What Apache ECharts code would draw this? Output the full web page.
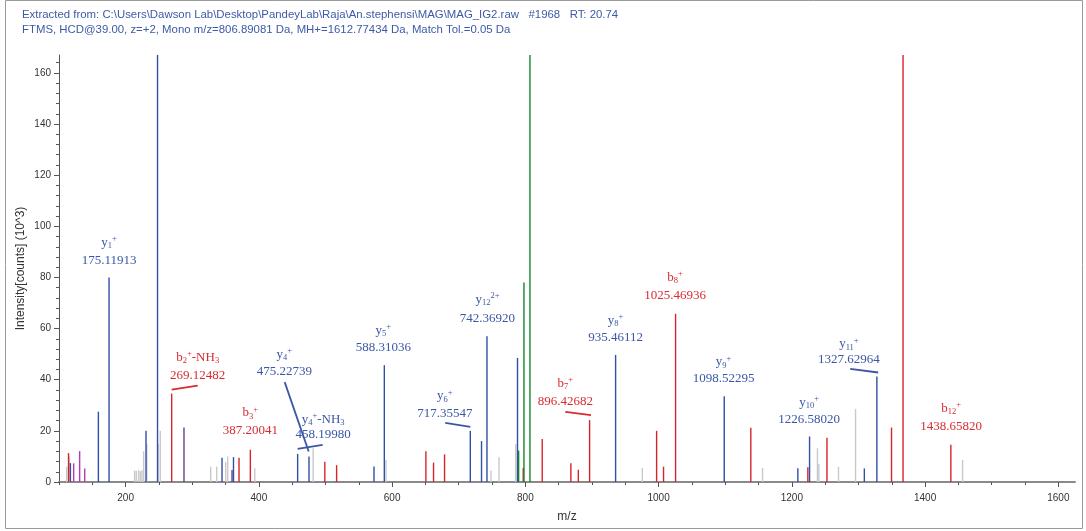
<!DOCTYPE html>
<html>
<head>
<meta charset="utf-8">
<script src="https://cdn.jsdelivr.net/npm/echarts@6/dist/echarts.min.js"></script>
<style>
  html, body { margin: 0; padding: 0; background: #ffffff; }
  #chart { width: 1086px; height: 531px; }
</style>
</head>
<body>
<div id="chart"></div>
<script>
// ---- Header text ----
const headerLine1 = 'Extracted from: C:\\Users\\Dawson Lab\\Desktop\\PandeyLab\\Raja\\An.stephensi\\MAG\\MAG_IG2.raw   #1968   RT: 20.74';
const headerLine2 = 'FTMS, HCD@39.00, z=+2, Mono m/z=806.89081 Da, MH+=1612.77434 Da, Match Tol.=0.05 Da';
const xAxisTitle = 'm/z';
const yAxisTitle = 'Intensity[counts] (10^3)';

// ---- Axis ticks ----
const xTickValues = [200, 400, 600, 800, 1000, 1200, 1400, 1600];
const xMinorTicks = [100, 150, 200, 250, 300, 350, 400, 450, 500, 550, 600, 650, 700, 750, 800, 850, 900, 950,
                     1000, 1050, 1100, 1150, 1200, 1250, 1300, 1350, 1400, 1450, 1500, 1550, 1600];
const yTickValues = [0, 20, 40, 60, 80, 100, 120, 140, 160];
const yMinorTicks = [0, 4, 8, 12, 16, 20, 24, 28, 32, 36, 40, 44, 48, 52, 56, 60, 64, 68, 72, 76, 80, 84, 88, 92, 96,
                     100, 104, 108, 112, 116, 120, 124, 128, 132, 136, 140, 144, 148, 152, 156, 160, 164];

// ---- Peaks: m/z and intensity (10^3 counts) by ion type ----
const greyMz  = [111.5, 115.5, 213.5, 216.0, 219.5, 222.0, 224.5, 227.0, 231.8, 248.8, 252.0, 327.7, 336.7, 350.2,
                 353.2, 393.8, 481.5, 590.8, 748.4, 760.5, 785.5, 975.6, 1156.0, 1238.4, 1240.5, 1270.0, 1295.6, 1456.3];
const greyInt = [6, 10, 4.5, 4.3, 4.6, 4.2, 4.5, 12, 15, 15, 20, 6, 6, 7.8,
                 10, 5.4, 13.2, 8.6, 4.5, 9.7, 14.9, 5.5, 5.5, 13.2, 7, 6, 28.6, 8.6];

const magentaMz  = [122.0, 131.0, 138.6];
const magentaInt = [7.3, 12.1, 5.3];

const purpleMz  = [287.6, 359.7];
const purpleInt = [21.3, 4.7];

const blueMz  = [117.1, 159.1, 175.11913, 230.6, 247.9, 344.7, 361.9, 458.19980, 475.22739, 572.8, 588.31036,
                 717.35547, 734.2, 742.36920, 788.2, 935.46112, 1098.52295, 1209.0, 1226.58020, 1308.8, 1327.62964];
const blueInt = [7.4, 27.5, 80, 20, 215, 9.5, 9.7, 11, 10, 6.1, 45.7,
                 20, 16, 57, 48.5, 49.7, 33.5, 5.4, 17.8, 5.3, 41.3];

const redMz  = [114.3, 269.12482, 370.2, 387.20041, 499.0, 516.7, 650.7, 662.2, 678.7, 796.8, 825.3, 868.3, 879.5,
                896.42682, 997.0, 1007.4, 1025.46936, 1138.4, 1224.0, 1252.7, 1349.6, 1366.9, 1438.65820];
const redInt = [11.3, 34.6, 9.5, 12.6, 7.9, 6.6, 12, 7.6, 10.8, 5.5, 16.8, 7.3, 4.8,
                24.2, 20, 6, 65.8, 21.2, 5.8, 17.3, 21.3, 240, 14.6];

const greenMz  = [789.9, 797.9, 806.9];
const greenInt = [12.3, 78, 290];

// ---- Fragment annotations ----
const annMz   = [175.11913, 269.12482, 387.20041, 475.22739, 458.19980, 588.31036, 717.35547, 742.36920,
                 896.42682, 935.46112, 1025.46936, 1098.52295, 1226.58020, 1327.62964, 1438.65820];
const annKind = ['y', 'b', 'b', 'y', 'y', 'y', 'y', 'y', 'b', 'y', 'b', 'y', 'y', 'y', 'b'];
const annName = [
  '{i|y}{sb|1}{sp|+}',
  '{i|b}{sb|2}{sp|+}{i|-NH}{sb|3}',
  '{i|b}{sb|3}{sp|+}',
  '{i|y}{sb|4}{sp|+}',
  '{i|y}{sb|4}{sp|+}{i|-NH}{sb|3}',
  '{i|y}{sb|5}{sp|+}',
  '{i|y}{sb|6}{sp|+}',
  '{i|y}{sb|12}{sp|2+}',
  '{i|b}{sb|7}{sp|+}',
  '{i|y}{sb|8}{sp|+}',
  '{i|b}{sb|8}{sp|+}',
  '{i|y}{sb|9}{sp|+}',
  '{i|y}{sb|10}{sp|+}',
  '{i|y}{sb|11}{sp|+}',
  '{i|b}{sb|12}{sp|+}'
];

// Label placement in pixels relative to the peak top:
// [dx, name line dy, value line dy, leader line [x1, y1, x2, y2] or null]
const annLayout = [
  [0, -35, -17, null],
  [26, -36, -18, [0, -4, 26, -8]],
  [0, -37, -19, null],
  [-24.6, -101.7, -85.3, [-24.3, -74.3, -0.3, -5]],
  [25.5, -34.5, -18.8, [0, -5, 25, -9]],
  [-1, -35, -18, null],
  [-25.5, -35, -17.4, [-25, -8, 0, -4]],
  [0.5, -36.6, -18, null],
  [-24.3, -36.7, -18.3, [-24.3, -8.3, 1.4, -5]],
  [0, -34.6, -17.3, null],
  [-0.5, -36, -18.2, null],
  [-0.7, -34.5, -17.9, null],
  [-0.5, -34, -16.5, null],
  [-28, -32.6, -16.6, [-26.7, -7.6, 1.3, -3.9]],
  [0.3, -36, -17.6, null]
];

// ---- Colours ----
const COL = {
  grey: '#c9c9c9', magenta: '#b23cb0', purple: '#6b3d8a',
  blue: '#3050a8', red: '#d9232b', green: '#12862a',
  blueText: '#3a56a6', redText: '#d82a30',
  axis: '#555555', axisText: '#333333', header: '#3d5aa8'
};

const SERIF = '"Liberation Serif", "DejaVu Serif", serif';
const SANS = '"Liberation Sans", Arial, sans-serif';

function peakIntensity(mz) {
  let i = blueMz.indexOf(mz);
  if (i >= 0) return blueInt[i];
  i = redMz.indexOf(mz);
  return i >= 0 ? redInt[i] : 0;
}

function stickSeries(name, mz, inten, color) {
  return {
    type: 'custom',
    name: name,
    clip: true,
    silent: true,
    xAxisIndex: 0,
    yAxisIndex: 0,
    data: mz.map((m, i) => [m, inten[i]]),
    encode: { x: 0, y: 1 },
    renderItem: function (params, api) {
      const top = api.coord([api.value(0), api.value(1)]);
      const base = api.coord([api.value(0), 0]);
      return {
        type: 'line',
        shape: { x1: top[0], y1: base[1], x2: top[0], y2: top[1] },
        style: { stroke: color, lineWidth: 1.4 }
      };
    }
  };
}

function richFor(color) {
  return {
    i:  { fill: color, fontSize: 13, fontFamily: SERIF, lineHeight: 16 },
    sb: { fill: color, fontSize: 8.5, fontFamily: SERIF, verticalAlign: 'bottom' },
    sp: { fill: color, fontSize: 8.5, fontFamily: SERIF, verticalAlign: 'top' }
  };
}

const annotationSeries = {
  type: 'custom',
  name: 'annotations',
  clip: false,
  silent: true,
  z: 5,
  xAxisIndex: 0,
  yAxisIndex: 0,
  data: annMz.map((m, i) => [m, peakIntensity(m), i]),
  encode: { x: 0, y: 1 },
  renderItem: function (params, api) {
    const i = api.value(2);
    const p = api.coord([api.value(0), api.value(1)]);
    const lay = annLayout[i];
    const col = annKind[i] === 'b' ? COL.redText : COL.blueText;
    const children = [
      {
        type: 'text',
        x: p[0] + lay[0], y: p[1] + lay[1],
        style: {
          text: annName[i], rich: richFor(col), fill: col,
          fontSize: 13, fontFamily: SERIF,
          align: 'center', verticalAlign: 'middle'
        }
      },
      {
        type: 'text',
        x: p[0] + lay[0], y: p[1] + lay[2],
        style: {
          text: annMz[i].toFixed(5), fill: col,
          fontSize: 13, fontFamily: SERIF,
          align: 'center', verticalAlign: 'middle'
        }
      }
    ];
    const ld = lay[3];
    if (ld) {
      children.push({
        type: 'line',
        shape: { x1: p[0] + ld[0], y1: p[1] + ld[1], x2: p[0] + ld[2], y2: p[1] + ld[3] },
        style: { stroke: col, lineWidth: 1.8 }
      });
    }
    return { type: 'group', children: children };
  }
};

const plainNumber = function (v) { return String(v); };

const chart = echarts.init(document.getElementById('chart'), null, { renderer: 'canvas' });

chart.setOption({
  animation: false,
  backgroundColor: '#ffffff',
  title: {
    text: headerLine1 + '\n' + headerLine2,
    left: 22, top: 8, padding: 0,
    textStyle: { color: COL.header, fontSize: 11.4, fontWeight: 'normal', fontFamily: SANS, lineHeight: 14.6 }
  },
  graphic: [{
    type: 'rect', silent: true, z: -1,
    shape: { x: 5.5, y: 0.5, width: 1077, height: 528 },
    style: { fill: 'none', stroke: '#9a9a9a', lineWidth: 1 }
  }],
  grid: { left: 59, right: 11, top: 55, bottom: 49, containLabel: false },
  xAxis: [{
    type: 'value', min: 100, max: 1625, position: 'bottom',
    axisLine: { show: true, onZero: false, lineStyle: { color: '#8a8a8a', width: 2 } },
    axisTick: { show: true, length: 3, customValues: xMinorTicks, lineStyle: { color: COL.axis } },
    axisLabel: { show: false },
    splitLine: { show: false }
  }, {
    type: 'value', min: 100, max: 1625, position: 'bottom',
    axisLine: { show: false, onZero: false },
    axisTick: { show: true, length: 5, customValues: xTickValues, lineStyle: { color: COL.axis } },
    axisLabel: { customValues: xTickValues, formatter: plainNumber, color: COL.axisText, fontSize: 10, fontFamily: SANS, margin: 11 },
    splitLine: { show: false },
    name: xAxisTitle, nameLocation: 'middle', nameGap: 29, nameMoveOverlap: false,
    nameTextStyle: { color: COL.axisText, fontSize: 12, fontFamily: SANS }
  }],
  yAxis: [{
    type: 'value', min: 0, max: 167, position: 'left',
    axisLine: { show: true, onZero: false, lineStyle: { color: COL.axis, width: 1 } },
    axisTick: { show: true, length: 5, customValues: yTickValues, lineStyle: { color: COL.axis } },
    axisLabel: { customValues: yTickValues, formatter: plainNumber, color: COL.axisText, fontSize: 10, fontFamily: SANS, margin: 8 },
    splitLine: { show: false },
    name: yAxisTitle, nameLocation: 'middle', nameGap: 32, nameRotate: 90, nameMoveOverlap: false,
    nameTextStyle: { color: COL.axisText, fontSize: 12, fontFamily: SANS }
  }, {
    type: 'value', min: 0, max: 167, position: 'left',
    axisLine: { show: false, onZero: false },
    axisTick: { show: true, length: 3, customValues: yMinorTicks, lineStyle: { color: COL.axis } },
    axisLabel: { show: false },
    splitLine: { show: false }
  }],
  series: [
    stickSeries('unmatched', greyMz, greyInt, COL.grey),
    stickSeries('immonium', magentaMz, magentaInt, COL.magenta),
    stickSeries('internal', purpleMz, purpleInt, COL.purple),
    stickSeries('y ions', blueMz, blueInt, COL.blue),
    stickSeries('b ions', redMz, redInt, COL.red),
    stickSeries('precursor', greenMz, greenInt, COL.green),
    annotationSeries
  ]
});
</script>
</body>
</html>
